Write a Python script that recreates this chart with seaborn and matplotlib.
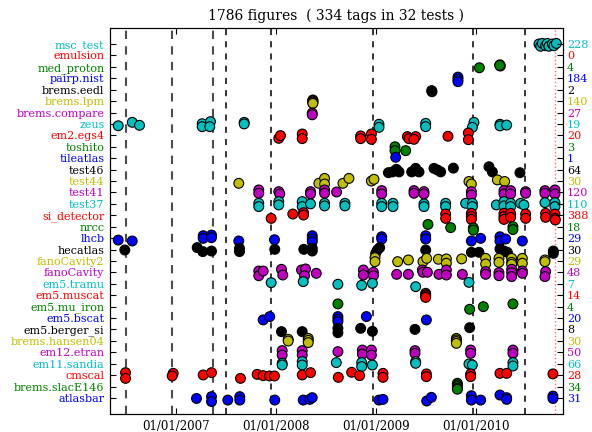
import matplotlib
matplotlib.use("Agg")
import matplotlib.pyplot as plt
import matplotlib.dates as mdates
import seaborn as sns
import pandas as pd

# ---------------- data ----------------
tests = ["msc_test", "emulsion", "med_proton", "pairp.nist", "brems.eedl", "brems.lpm",
         "brems.compare", "zeus", "em2.egs4", "toshito", "tileatlas", "test46", "test44",
         "test41", "test37", "si_detector", "nrcc", "lhcb", "hecatlas", "fanoCavity2",
         "fanoCavity", "em5.tramu", "em5.muscat", "em5.mu_iron", "em5.bscat",
         "em5.berger_si", "brems.hansen04", "em12.etran", "em11.sandia", "cmscal",
         "brems.slacE146", "atlasbar"]
counts = [228, 0, 4, 184, 2, 140, 27, 19, 20, 3, 1, 64, 30, 120, 110, 388, 18, 29, 30,
          29, 48, 7, 14, 4, 20, 8, 30, 50, 66, 28, 34, 31]

# tag date (decimal year) and small vertical offset within the row
tag_points = {
    "msc_test": [(2010.628, 0.0), (2010.645, -0.2), (2010.662, 0.05), (2010.695, -0.15),
                 (2010.712, 0.05), (2010.728, -0.2), (2010.762, 0.0), (2010.778, -0.15),
                 (2010.802, 0.05)],
    "emulsion": [],
    "med_proton": [(2010.032, -0.08), (2010.238, 0.18), (2010.242, 0.07), (2010.235, 0.12)],
    "pairp.nist": [(2009.818, 0.1), (2009.818, -0.1), (2009.818, -0.3)],
    "brems.eedl": [(2009.555, -0.08), (2009.558, -0.18)],
    "brems.lpm": [(2008.368, 0.1), (2008.368, 0.05), (2008.368, 0.0), (2008.368, -0.08),
                  (2008.368, -0.15), (2008.368, -0.2)],
    "brems.compare": [(2008.362, -0.05), (2008.362, -0.2)],
    "zeus": [(2006.422, -0.16), (2006.562, 0.14), (2006.635, -0.12), (2007.262, 0.02),
             (2007.262, -0.24), (2007.345, 0.2), (2007.338, -0.24), (2007.682, 0.14),
             (2007.682, 0.0), (2009.028, -0.03), (2009.028, -0.3), (2009.495, 0.05),
             (2009.495, -0.24), (2009.978, 0.14), (2009.962, -0.3), (2010.238, -0.03),
             (2010.238, -0.17), (2010.305, -0.1)],
    "em2.egs4": [(2008.028, -0.26), (2008.045, -0.02), (2008.262, 0.12), (2008.262, -0.29),
                 (2008.845, -0.05), (2008.845, -0.29), (2008.952, 0.12), (2008.952, -0.35),
                 (2009.312, -0.11), (2009.328, -0.29), (2009.395, -0.11), (2009.378, -0.35),
                 (2009.718, -0.08), (2009.922, 0.21), (2009.922, -0.38)],
    "toshito": [(2009.188, 0.0), (2009.188, -0.34), (2009.295, -0.34)],
    "tileatlas": [(2009.195, 0.08)],
    "test46": [(2009.122, -0.27), (2009.162, -0.2), (2009.202, 0.03), (2009.228, -0.2),
               (2009.355, -0.2), (2009.395, 0.11), (2009.428, -0.2), (2009.578, 0.11),
               (2009.612, -0.03), (2009.645, -0.2), (2009.772, 0.13), (2010.128, 0.25),
               (2010.162, -0.2), (2010.438, -0.27)],
    "test44": [(2007.628, -0.2), (2008.428, -0.2), (2008.485, 0.23), (2008.485, -0.26),
               (2008.668, -0.2), (2008.728, 0.23), (2008.952, 0.0), (2008.978, 0.15),
               (2009.928, -0.04), (2009.952, -0.26), (2010.212, 0.1), (2010.285, -0.04)],
    "test41": [(2007.828, 0.22), (2007.828, -0.07), (2008.028, 0.07), (2008.038, -0.13),
               (2008.345, 0.07), (2008.345, -0.13), (2008.485, 0.22), (2008.485, -0.07),
               (2008.605, 0.04), (2009.055, 0.16), (2009.055, -0.13), (2009.378, 0.16),
               (2009.378, -0.07), (2009.478, 0.07), (2009.478, -0.13), (2009.952, 0.07),
               (2009.952, -0.22), (2010.278, 0.16), (2010.278, -0.13), (2010.345, 0.16),
               (2010.345, -0.13), (2010.495, 0.07), (2010.495, -0.07), (2010.688, 0.16),
               (2010.688, -0.07), (2010.788, 0.22), (2010.788, -0.13)],
    "test37": [(2007.828, 0.05), (2007.828, -0.24), (2008.028, 0.2), (2008.028, -0.09),
               (2008.262, 0.2), (2008.262, -0.24), (2008.345, 0.0), (2008.485, 0.05),
               (2008.485, -0.18), (2008.688, 0.05), (2008.688, -0.18), (2009.055, 0.05),
               (2009.055, -0.24), (2009.168, 0.05), (2009.168, -0.24), (2009.478, 0.0),
               (2009.478, -0.24), (2009.695, 0.05), (2009.695, -0.24), (2009.895, 0.05),
               (2009.962, 0.05), (2009.962, -0.24), (2010.202, -0.09), (2010.278, 0.2),
               (2010.278, -0.18), (2010.345, 0.05), (2010.345, -0.24), (2010.445, 0.05),
               (2010.478, -0.09), (2010.688, 0.11), (2010.788, 0.11), (2010.788, -0.24)],
    "si_detector": [(2007.952, -0.27), (2008.168, 0.11), (2008.275, 0.23), (2008.275, 0.02),
                    (2009.695, 0.11), (2009.695, -0.27), (2009.952, 0.17), (2009.952, -0.12),
                    (2009.952, -0.36), (2010.278, 0.17), (2010.278, -0.12), (2010.278, -0.36),
                    (2010.345, 0.17), (2010.345, -0.18), (2010.495, 0.11), (2010.495, -0.27),
                    (2010.695, 0.17), (2010.695, -0.18), (2010.788, 0.11), (2010.788, -0.27),
                    (2010.792, -0.41)],
    "nrcc": [(2009.518, 0.2), (2009.745, -0.08), (2009.972, -0.1), (2009.972, -0.3),
             (2010.368, 0.0), (2010.368, -0.25)],
    "lhcb": [(2006.422, -0.17), (2006.562, -0.25), (2007.272, 0.21), (2007.272, -0.02),
             (2007.355, 0.27), (2007.355, 0.04), (2007.628, -0.25), (2007.985, -0.14),
             (2008.362, 0.21), (2008.362, -0.08), (2008.362, -0.31), (2009.055, 0.12),
             (2009.055, -0.08), (2009.495, 0.21), (2009.495, -0.08), (2009.952, -0.25),
             (2010.045, -0.02), (2010.238, 0.12), (2010.238, -0.25), (2010.295, -0.08),
             (2010.462, -0.25)],
    "hecatlas": [(2006.488, -0.04), (2007.212, 0.17), (2007.268, -0.18), (2007.355, -0.13),
                 (2007.635, 0.11), (2007.635, -0.18), (2007.988, 0.02), (2008.278, 0.02),
                 (2008.362, 0.11), (2008.362, -0.13), (2008.995, -0.33), (2009.012, -0.04),
                 (2009.035, 0.17), (2009.495, -0.04), (2009.952, -0.24), (2010.028, -0.24),
                 (2010.238, 0.05), (2010.278, -0.13), (2010.312, -0.24), (2010.772, -0.13),
                 (2010.772, -0.33)],
    "fanoCavity2": [(2008.988, 0.29), (2008.988, -0.06), (2009.215, -0.06), (2009.322, 0.09),
                    (2009.468, -0.06), (2009.505, 0.23), (2009.622, 0.15), (2009.702, 0.18),
                    (2009.702, -0.2), (2009.855, 0.18), (2010.095, 0.23), (2010.095, -0.26),
                    (2010.228, 0.23), (2010.228, -0.12), (2010.355, 0.23), (2010.355, -0.12),
                    (2010.355, -0.29), (2010.462, 0.23), (2010.462, -0.2), (2010.688, 0.09),
                    (2010.688, -0.06)],
    "fanoCavity": [(2007.828, 0.12), (2007.828, -0.29), (2007.872, 0.12), (2008.055, 0.27),
                   (2008.068, -0.23), (2008.255, 0.21), (2008.295, 0.3), (2008.285, -0.29),
                   (2008.402, -0.08), (2008.872, 0.21), (2008.872, -0.23), (2008.972, 0.01),
                   (2008.972, -0.29), (2009.205, -0.17), (2009.322, -0.17), (2009.462, 0.21),
                   (2009.468, 0.01), (2009.512, 0.01), (2009.628, -0.17), (2009.702, 0.21),
                   (2009.702, -0.23), (2009.862, -0.17), (2010.095, 0.07), (2010.095, -0.17),
                   (2010.228, -0.02), (2010.228, -0.29), (2010.355, 0.27), (2010.355, -0.02),
                   (2010.355, -0.37), (2010.462, 0.12), (2010.462, -0.08), (2010.695, 0.07),
                   (2010.688, -0.37)],
    "em5.tramu": [(2007.952, 0.1), (2008.272, 0.19), (2008.618, -0.04), (2008.855, -0.13),
                  (2008.962, 0.04), (2009.395, -0.25), (2009.928, 0.13)],
    "em5.muscat": [(2009.495, 0.17), (2009.495, 0.05), (2009.495, -0.05), (2009.495, -0.19)],
    "em5.mu_iron": [(2008.618, 0.24), (2009.935, -0.23), (2010.072, 0.0), (2010.368, 0.24)],
    "em5.bscat": [(2007.872, -0.16), (2007.938, 0.13), (2008.618, 0.13), (2008.618, -0.1),
                  (2008.618, -0.31), (2008.902, 0.13), (2009.502, -0.16)],
    "em5.berger_si": [(2008.055, -0.19), (2008.262, -0.19), (2008.618, 0.1), (2008.618, -0.28),
                      (2008.845, 0.1), (2008.962, -0.16), (2009.388, 0.01), (2009.935, 0.16)],
    "brems.hansen04": [(2008.122, 0.14), (2008.122, -0.01), (2008.322, 0.22), (2008.322, 0.05),
                       (2008.322, -0.15), (2009.802, 0.22), (2009.802, 0.08), (2009.802, -0.05),
                       (2009.802, -0.21)],
    "em12.etran": [(2008.062, 0.15), (2008.062, -0.24), (2008.262, 0.15), (2008.262, -0.24),
                   (2008.618, 0.06), (2008.862, 0.2), (2008.862, -0.15), (2008.952, 0.2),
                   (2008.952, -0.24), (2009.388, 0.15), (2009.388, -0.09), (2009.945, 0.2),
                   (2009.945, -0.09), (2010.368, 0.2), (2010.368, -0.09)],
    "em11.sandia": [(2008.062, 0.04), (2008.062, -0.11), (2008.262, 0.19), (2008.262, -0.11),
                    (2008.602, 0.1), (2008.855, 0.1), (2008.855, -0.25), (2008.962, -0.11),
                    (2009.395, 0.19), (2009.395, 0.04), (2009.928, -0.02), (2009.962, -0.11),
                    (2010.368, 0.1), (2010.368, -0.2)],
    "cmscal": [(2006.495, 0.22), (2006.495, -0.28), (2006.972, 0.16), (2006.962, -0.07),
               (2007.272, 0.02), (2007.355, 0.22), (2007.645, -0.28), (2007.812, 0.07),
               (2007.872, -0.04), (2007.935, -0.07), (2007.985, -0.07), (2008.262, 0.02),
               (2008.345, 0.22), (2008.622, -0.19), (2008.755, 0.25), (2008.835, -0.04),
               (2009.068, 0.16), (2009.068, -0.19), (2009.502, 0.11), (2009.502, -0.13),
               (2009.945, 0.11), (2009.945, -0.13), (2010.238, 0.16), (2010.305, 0.16),
               (2010.768, 0.11)],
    "brems.slacE146": [(2009.812, 0.29), (2009.812, 0.14), (2009.812, 0.0), (2009.812, -0.15),
                       (2009.812, -0.23)],
    "atlasbar": [(2007.205, -0.04), (2007.355, 0.12), (2007.355, -0.31), (2007.518, -0.18),
                 (2007.638, 0.12), (2007.638, -0.18), (2007.988, -0.18), (2008.272, -0.18),
                 (2008.338, -0.12), (2008.362, 0.03), (2009.028, -0.18), (2009.068, -0.12),
                 (2009.505, -0.26), (2009.552, 0.06), (2009.952, 0.2), (2009.952, -0.18),
                 (2010.045, -0.18), (2010.238, 0.26), (2010.305, 0.03), (2010.305, -0.12),
                 (2010.768, 0.17), (2010.768, -0.04)],
}

release_dates = ["2006-07-04", "2006-12-19", "2007-05-15", "2007-07-02",
                 "2007-12-15", "2008-12-22", "2009-12-20", "2010-06-28"]
current_date = "2010-10-16"
x_start, x_end = "2006-05-05", "2010-11-13"
tick_dates = ["2007-01-01", "2008-01-01", "2009-01-01", "2010-01-01"]
title = "1786 figures  ( 334 tags in 32 tests )"

# ---------------- helpers ----------------
base_colors = {"b": (0, 0, 1), "g": (0, 0.5, 0), "r": (1, 0, 0), "c": (0, 0.75, 0.75),
               "m": (0.75, 0, 0.75), "y": (0.75, 0.75, 0), "k": (0, 0, 0)}
cycle = ["b", "g", "r", "c", "m", "y", "k"]
n = len(tests)
row_pos = {t: n - 1 - i for i, t in enumerate(tests)}
palette = {t: base_colors[cycle[row_pos[t] % 7]] for t in tests}


def year_to_date(y):
    yr = int(y)
    start = pd.Timestamp(yr, 1, 1)
    end = pd.Timestamp(yr + 1, 1, 1)
    return start + (end - start) * (y - yr)


records = []
for t in tests:
    for yr, dy in tag_points[t]:
        records.append({"test": t, "date": year_to_date(yr), "pos": row_pos[t] + dy})
df = pd.DataFrame(records)

# ---------------- plot ----------------
plt.rcParams["font.family"] = ["DejaVu Serif"]
fig = plt.figure(figsize=(5.92, 4.32), dpi=100)
ax = fig.add_axes([110 / 592, 18 / 432, 452.7 / 592, 386 / 432])

for k, d in enumerate(release_dates):
    if k < 3:
        ax.axvline(pd.Timestamp(d), color="0.3", lw=1.5, ls=(0, (4, 3.5)), zorder=1)
    else:
        ax.axvline(pd.Timestamp(d), color="black", lw=1.1, ls=(0, (4, 4)), zorder=1)
ax.axvline(pd.Timestamp(current_date), color="#ff7070", lw=1.0, ls=":", zorder=1)

sns.scatterplot(data=df, x="date", y="pos", hue="test", palette=palette, s=50,
                edgecolor="black", linewidth=0.8, legend=False, ax=ax, zorder=3)

ax.set_xlim(pd.Timestamp(x_start), pd.Timestamp(x_end))
ax.set_ylim(-1.4, 32.4)
ax.set_xticks([pd.Timestamp(d) for d in tick_dates])
ax.xaxis.set_major_formatter(mdates.DateFormatter("%d/%m/%Y"))
ax.set_xlabel("")
ax.set_ylabel("")
ax.set_yticks([row_pos[t] for t in tests])
ax.set_yticklabels(tests, fontsize=8)
for lab, t in zip(ax.get_yticklabels(), tests):
    lab.set_color(palette[t])
ax.tick_params(axis="x", direction="in", length=4, top=True, labelsize=8.5, pad=4)
ax.tick_params(axis="y", direction="in", length=4, pad=4)

ax2 = ax.twinx()
ax2.set_ylim(ax.get_ylim())
ax2.set_yticks([row_pos[t] for t in tests])
ax2.set_yticklabels([str(c) for c in counts], fontsize=8)
for lab, t in zip(ax2.get_yticklabels(), tests):
    lab.set_color(palette[t])
ax2.tick_params(axis="y", direction="in", length=4, pad=3)

ax.set_title(title, fontsize=10, pad=6)
fig.savefig("out.png", dpi=100)
